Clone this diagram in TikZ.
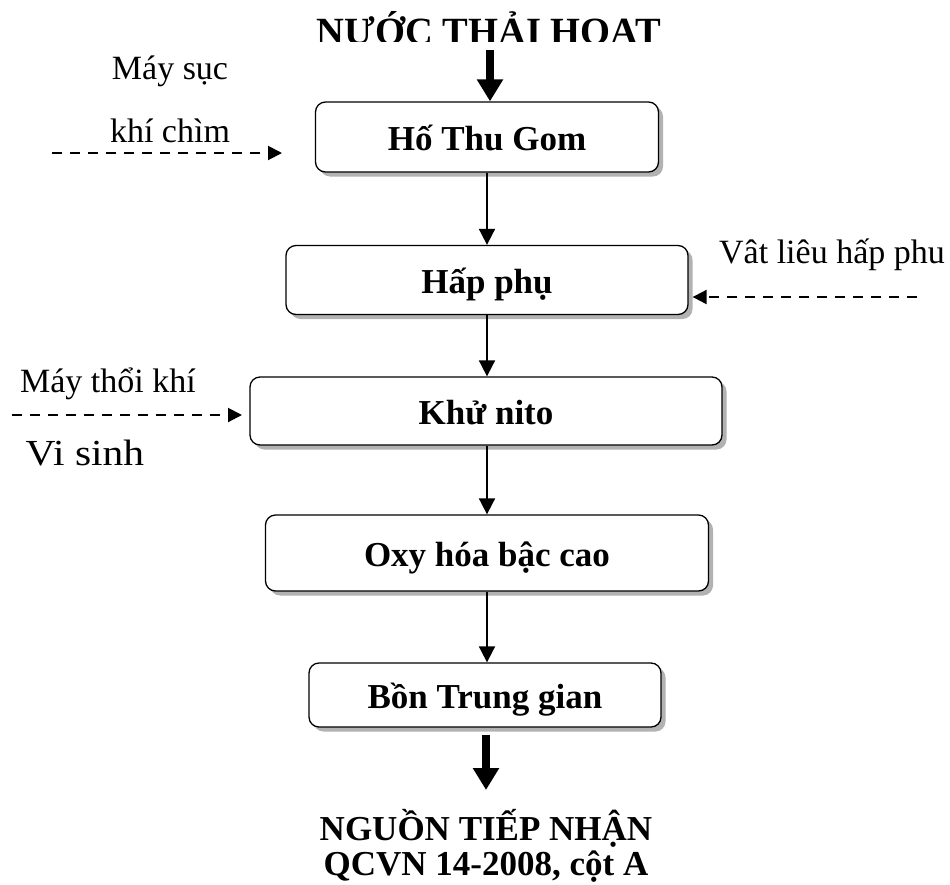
\documentclass[tikz,border=0pt]{standalone}
\usepackage{fontspec}
\usepackage{graphicx}
\setmainfont{Liberation Serif}
\usetikzlibrary{arrows.meta,shadows}
\begin{document}
\begin{tikzpicture}[x=1pt,y=-1pt,
  stepbox/.style={draw, line width=1.3pt, rounded corners=10pt, fill=white,
    drop shadow={shadow xshift=4.5pt, shadow yshift=-4.5pt, fill=black!30, opacity=1},
    font=\fontsize{35}{40}\selectfont\bfseries, text height=27pt, text depth=0pt, inner sep=0pt},
  lbl/.style={font=\fontsize{34}{40}\selectfont, anchor=base, inner sep=0pt},
  ttl/.style={font=\fontsize{35}{40}\selectfont\bfseries, anchor=base, inner sep=0pt},
  flow/.style={line width=1.8pt, -{Triangle[length=16pt,width=16pt]}},
  bigflow/.style={line width=8pt, -{Triangle[length=22pt,width=25pt]}},
  feed/.style={line width=2pt, dash pattern=on 10pt off 8pt, -{Triangle[length=14pt,width=14pt]}}]
\useasboundingbox (0,0) rectangle (950,884);
\fill[white] (0,0) rectangle (950,884);

% title (its lower edge is cut off in the source)
\begin{scope}
  \clip (0,0) rectangle (950,41);
  \node[ttl, font=\fontsize{38.5}{44}\selectfont\bfseries] (src) at (489,44) {NƯỚC THẢI HOAT};
\end{scope}

% main boxes
\node[stepbox, minimum width=343pt, minimum height=70pt] (b1) at (487,137) {Hố Thu Gom};
\node[stepbox, minimum width=402pt, minimum height=69pt] (b2) at (487,280) {Hấp phụ};
\node[stepbox, minimum width=472pt, minimum height=68pt] (b3) at (486,411) {Khử nito};
\node[stepbox, minimum width=443pt, minimum height=76pt] (b4) at (487,553) {Oxy hóa bậc cao};
\node[stepbox, minimum width=352pt, minimum height=64pt] (b5) at (485,695) {Bồn Trung gian};
\node[ttl] (dst1) at (486,840) {NGUỒN TIẾP NHẬN};
\node[ttl] (dst2) at (486,875) {QCVN 14-2008, cột A};

% side labels
\node[lbl] (l1) at (170,79) {Máy sục};
\node[lbl] (l2) at (170,142) {khí chìm};
\node[lbl] (l3) at (832,263) {Vât liêu hấp phu};
\node[lbl] (l4) at (108,392) {Máy thổi khí};
\node[lbl] (l5) at (85,465) {\scalebox{1.22}[1.08]{Vi sinh}};

% coordinates
\coordinate (inStart) at (490,50);
\coordinate (outEnd) at (486,790);
\coordinate (d1s) at (52,153);
\coordinate (d1e) at (282,153);
\coordinate (d2s) at (917,297);
\coordinate (d3s) at (12,415);
\coordinate (d3e) at (242,415);

% main flow
\draw[bigflow] (inStart) -- (inStart |- b1.north);
\draw[flow] (b1.south) -- (b1.south |- b2.north);
\draw[flow] (b2.south) -- (b2.south |- b3.north);
\draw[flow] (b2.south |- b3.south) -- (b2.south |- b4.north);
\draw[flow] (b2.south |- b4.south) -- (b2.south |- b5.north);
\draw[bigflow] ([yshift=-7pt]b5.south -| outEnd) -- (outEnd);

% feeds
\draw[feed] (d1s) -- (d1e);
\draw[feed] (d2s) -- ([xshift=4pt]b2.east |- d2s);
\draw[feed] (d3s) -- (d3e);
\end{tikzpicture}
\end{document}
